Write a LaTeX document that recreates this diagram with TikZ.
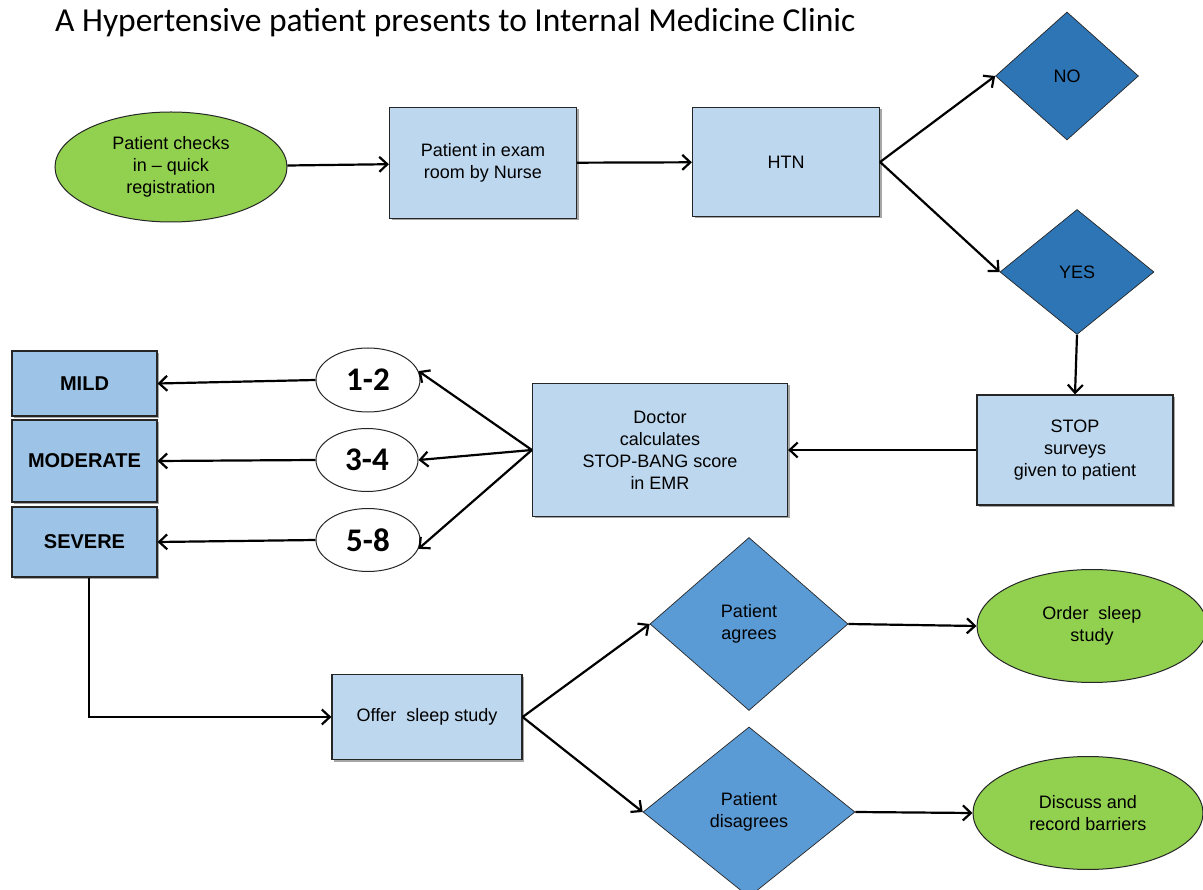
\documentclass[tikz,border=0pt]{standalone}
\usepackage{fontspec}
\setmainfont{Liberation Sans}
\newfontfamily\calibri{Carlito}
\usetikzlibrary{shapes.geometric,arrows.meta,shadows}
\definecolor{grn}{HTML}{92D050}
\definecolor{lblue}{HTML}{BDD7EE}
\definecolor{mblue}{HTML}{9DC3E6}
\definecolor{dblue}{HTML}{2E75B6}
\definecolor{ablue}{HTML}{5B9BD5}
\definecolor{edge}{HTML}{262626}
\begin{document}
\begin{tikzpicture}[x=1pt,y=-1pt,
  every node/.style={font=\fontsize{18}{22}\selectfont, align=center, inner sep=0pt},
  shad/.style={drop shadow={shadow xshift=2pt, shadow yshift=-2pt, opacity=0.35, fill=black}},
  lbox/.style={rectangle, draw=edge, line width=1.2pt, fill=lblue, shad},
  sbox/.style={rectangle, draw=edge, line width=1.2pt, fill=mblue, shad, font=\fontsize{20}{24}\selectfont\bfseries},
  gell/.style={ellipse, draw=edge, line width=1pt, fill=grn},
  well/.style={ellipse, draw=edge, line width=1pt, fill=white, font=\fontsize{33}{36}\selectfont\calibri\bfseries},
  ddia/.style={diamond, draw=edge, line width=0.7pt, fill=dblue},
  adia/.style={diamond, draw=edge, line width=0.7pt, fill=ablue},
  arr/.style={-{Straight Barb[length=8pt,width=15pt]}, line width=2.2pt, black}]
\useasboundingbox (0,0) rectangle (1203,890);
\fill[white] (0,0) rectangle (1203,890);

\node[font=\fontsize{33.5}{38}\selectfont\calibri, anchor=base west] (title) at (55,32) {A Hypertensive patient presents to Internal Medicine Clinic};

\node[gell, minimum width=232, minimum height=110] (checkin) at (171,167) {Patient checks\\in -- quick\\registration};
\node[lbox, minimum width=187, minimum height=111] (exam) at (483,163) {Patient in exam\\room by Nurse};
\node[lbox, minimum width=187, minimum height=109] (htn) at (786,162) {HTN};
\node[ddia, minimum width=143, minimum height=128] (no) at (1067,76) {NO};
\node[ddia, minimum width=154, minimum height=125] (yes) at (1077,272) {YES};
\node[lbox, minimum width=196, minimum height=110] (stop) at (1075,450) {STOP\\surveys\\given to patient};
\node[lbox, minimum width=255, minimum height=133] (doc) at (660,450) {Doctor\\calculates\\STOP-BANG score\\in EMR};

\node[well, minimum width=104, minimum height=64] (s12) at (368,380) {1-2};
\node[well, minimum width=102, minimum height=63] (s34) at (367,460) {3-4};
\node[well, minimum width=104, minimum height=63] (s58) at (368,540) {5-8};

\node[sbox, minimum width=145, minimum height=65] (mild) at (84.5,383.5) {MILD};
\node[sbox, minimum width=145, minimum height=82] (moderate) at (84.5,461) {MODERATE};
\node[sbox, minimum width=145, minimum height=70] (severe) at (84.5,542) {SEVERE};

\node[lbox, minimum width=190, minimum height=85] (offer) at (427,717) {Offer\ \ sleep study};
\node[adia, minimum width=198, minimum height=173] (agree) at (749,624) {Patient\\agrees};
\node[adia, minimum width=212, minimum height=170] (disagree) at (749,812) {Patient\\disagrees};
\node[gell, minimum width=230, minimum height=113] (order) at (1092,626) {Order\ \ sleep\\study};
\node[gell, minimum width=230, minimum height=113] (discuss) at (1088,813) {Discuss and\\record barriers};

\draw[arr] (checkin) -- (exam);
\draw[arr] (exam) -- (htn);
\draw[arr] (htn.east) -- (no.west);
\draw[arr] (htn.east) -- (yes.west);
\draw[arr] (yes.south) -- (stop.north);
\draw[arr] (stop) -- (doc);
\draw[arr] (doc.west) -- (s12.10);
\draw[arr] (doc.west) -- (s34.east);
\draw[arr] (doc.west) -- (s58.-10);
\draw[arr] (s12.west) -- (mild.east);
\draw[arr] (s34.west) -- (moderate.east);
\draw[arr] (s58.west) -- (severe.east);
\draw[arr] ([xshift=4.5pt]severe.south) |- (offer.west);
\draw[arr] (offer.east) -- (agree.west);
\draw[arr] (offer.east) -- (disagree.west);
\draw[arr] (agree.east) -- (order.west);
\draw[arr] (disagree.east) -- (discuss.west);
\end{tikzpicture}
\end{document}
